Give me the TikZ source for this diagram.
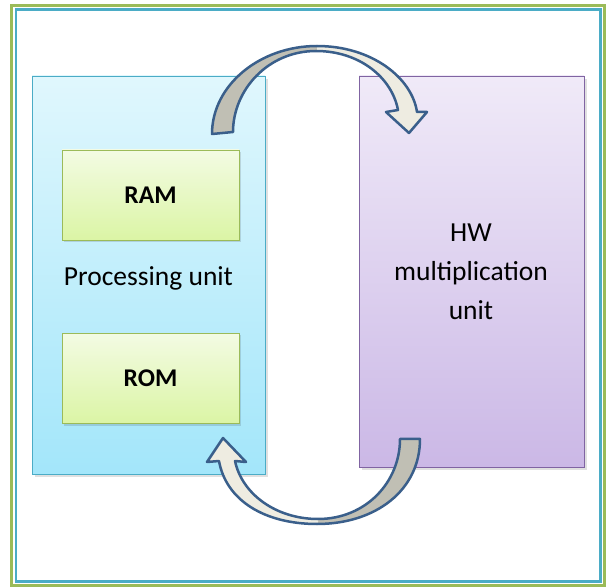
\documentclass[tikz,border=0pt]{standalone}
\usepackage{fontspec}
\setmainfont{Carlito}
\begin{document}
\begin{tikzpicture}[x=1pt,y=-1pt,
  box/.style={draw, line width=0.9pt, inner sep=0pt, rectangle},
  procbox/.style={box, draw=cyanedge, top color=proctop, bottom color=procbot, minimum width=233pt, minimum height=398pt},
  membox/.style={box, draw=greenedge, top color=memtop, bottom color=membot, minimum width=177pt, minimum height=90pt, font=\fontsize{25.5}{28}\selectfont\bfseries},
  hwbox/.style={box, draw=purpleedge, top color=hwtop, bottom color=hwbot, minimum width=225pt, minimum height=391pt},
  shadowbox/.style={fill=black, opacity=0.12},
  arrowline/.style={draw=arrowedge, line width=2.5pt, line join=round},
  lbl/.style={font=\fontsize{27.5}{39}\selectfont, align=center, inner sep=0pt}
]
\definecolor{cyanedge}{HTML}{4BACC6}
\definecolor{greenedge}{HTML}{9BBB59}
\definecolor{purpleedge}{HTML}{8064A2}
\definecolor{proctop}{HTML}{E0F7FD}
\definecolor{procbot}{HTML}{A3E6FA}
\definecolor{memtop}{HTML}{F3FBE3}
\definecolor{membot}{HTML}{DBF5A5}
\definecolor{hwtop}{HTML}{F0EAF8}
\definecolor{hwbot}{HTML}{CBB8E6}
\definecolor{arrowedge}{HTML}{3A5F8B}
\definecolor{darkband}{HTML}{C0BFB4}
\definecolor{lightband}{HTML}{EEECE1}

\useasboundingbox (0,0) rectangle (606,588);
\fill[white] (0,0) rectangle (606,588);
% outer frame
\draw[greenedge, line width=3pt] (11.5,5.5) rectangle (604,585.5);
\draw[cyanedge, line width=2.5pt] (16,9.5) rectangle (600.5,581.5);

% shadows
\fill[shadowbox] (35,79) rectangle (268,477);
\fill[shadowbox] (362,79) rectangle (587,470);
% boxes
\node[procbox] (proc) at (148.5,275) {};
\node[hwbox] (hw) at (471.5,271.5) {};
\fill[shadowbox] (64,152) rectangle (241,242);
\fill[shadowbox] (64,335) rectangle (241,426);
\node[membox] (ram) at (150.5,195) {RAM};
\node[membox] (rom) at (150.5,378.5) {ROM};
\node[lbl] (plabel) at (148.5,278) {Processing unit};
\node[lbl] (hwlabel) at (471,272) {HW\\multiplication\\unit};

% top curved arrow
\def\toparrow{(212,134) .. controls (212,85) and (260,46) .. (317,46)
  .. controls (372,46) and (412,78) .. (417,112)
  -- (427,112) -- (409,133) -- (386,112) -- (398,110)
  .. controls (392,78) and (360,51) .. (316,51)
  .. controls (268,51) and (233,90) .. (233,132) -- cycle}
\begin{scope}
  \clip (0,0) rectangle (317,300);
  \fill[darkband] \toparrow;
\end{scope}
\begin{scope}
  \clip (317,0) rectangle (606,300);
  \fill[lightband] \toparrow;
\end{scope}
\path[arrowline] \toparrow;

% bottom curved arrow
\def\botarrow{(420,439) .. controls (420,490) and (376,524) .. (317,524)
  .. controls (264,524) and (226,500) .. (219,461)
  -- (207,462) -- (223,438) -- (246,462) -- (235,461)
  .. controls (242,494) and (276,519) .. (318,519)
  .. controls (366,519) and (400,482) .. (400,439) -- cycle}
\begin{scope}
  \clip (318,300) rectangle (606,588);
  \fill[darkband] \botarrow;
\end{scope}
\begin{scope}
  \clip (0,300) rectangle (318,588);
  \fill[lightband] \botarrow;
\end{scope}
\path[arrowline] \botarrow;
\end{tikzpicture}
\end{document}
